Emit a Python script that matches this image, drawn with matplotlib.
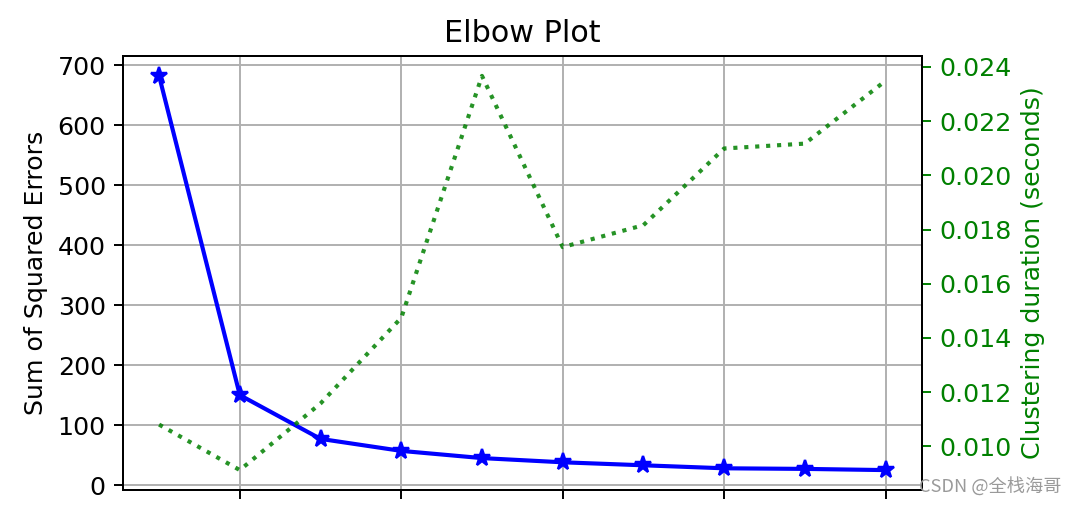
import matplotlib
matplotlib.use("Agg")
import matplotlib.pyplot as plt

k_values = [1, 2, 3, 4, 5, 6, 7, 8, 9, 10]
sse = [682, 150, 77, 57, 45, 38, 33, 28, 27, 25]
durations = [0.0108, 0.00912, 0.01158, 0.01474, 0.02367,
             0.01735, 0.01816, 0.02099, 0.02117, 0.02349]
sse_ticks = [0, 100, 200, 300, 400, 500, 600, 700]
duration_ticks = [0.010, 0.012, 0.014, 0.016, 0.018, 0.020, 0.022, 0.024]

plt.rcParams["font.size"] = 10.4

fig, ax = plt.subplots(figsize=(1077 / 175, 506 / 175), dpi=175)
fig.subplots_adjust(left=0.114, right=0.856, top=0.889, bottom=0.032)

ax.plot(k_values, sse, "b*-", linewidth=1.7, markersize=7)
ax.set_ylabel("Sum of Squared Errors")
ax.set_title("Elbow Plot")
ax.set_xticks([2, 4, 6, 8, 10])
ax.set_xticklabels([])
ax.set_yticks(sse_ticks)
ax.grid(True)

ax2 = ax.twinx()
ax2.plot(k_values, durations, "g:", linewidth=1.7, alpha=0.85)
ax2.set_ylabel("Clustering duration (seconds)", color="g")
ax2.tick_params(axis="y", colors="g")
ax2.set_yticks(duration_ticks)

# watermark
fig.text(0.986, 0.018, "CSDN @全栈海哥", ha="right", va="bottom",
         fontsize=7.5, color="#9a9a9a",
         family=["Noto Sans CJK SC", "DejaVu Sans"])

fig.savefig("out.png", dpi=175)
